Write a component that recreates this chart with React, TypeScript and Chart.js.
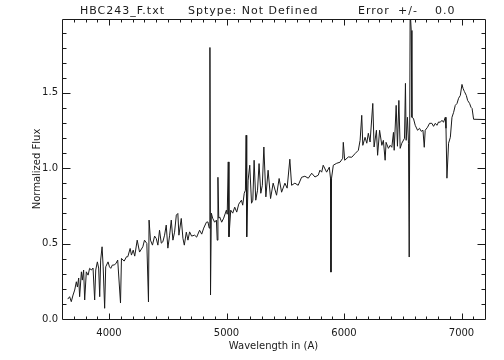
import React, { useEffect, useRef } from 'react';
import { Chart, registerables } from 'chart.js';

Chart.register(...registerables);

// Wavelength (Angstrom) samples
const wavelength = [
  3649, 3665, 3679, 3694, 3708, 3722, 3731, 3742, 3750, 3765, 3773, 3784, 3793, 3807, 3822, 3835,
  3850, 3864, 3878, 3887, 3901, 3912, 3921, 3929, 3941, 3950, 3963, 3972, 3992, 4004, 4015, 4029,
  4046, 4061, 4074, 4098, 4106, 4129, 4149, 4160, 4180, 4191, 4206, 4219, 4240, 4260, 4288, 4302,
  4322, 4336, 4341, 4353, 4370, 4388, 4402, 4416, 4430, 4445, 4458, 4473, 4487, 4501, 4516, 4530,
  4544, 4558, 4573, 4586, 4595, 4615, 4629, 4641, 4658, 4672, 4686, 4703, 4729, 4746, 4771, 4789,
  4806, 4829, 4842, 4853, 4859, 4864, 4871, 4882, 4899, 4914, 4921, 4927, 4934, 4942, 4959, 4976,
  4999, 5006, 5015, 5021, 5036, 5053, 5070, 5087, 5104, 5127, 5138, 5151, 5161, 5167, 5172, 5184,
  5198, 5213, 5224, 5235, 5249, 5264, 5277, 5292, 5305, 5318, 5335, 5354, 5375, 5397, 5426, 5448,
  5469, 5497, 5516, 5539, 5554, 5582, 5610, 5639, 5667, 5696, 5725, 5753, 5781, 5795, 5810, 5823,
  5852, 5875, 5885, 5889, 5894, 5909, 5938, 5966, 5989, 5994, 6006, 6037, 6066, 6094, 6122, 6137,
  6151, 6160, 6179, 6194, 6207, 6222, 6245, 6256, 6276, 6286, 6303, 6322, 6335, 6350, 6358, 6378,
  6393, 6407, 6421, 6427, 6444, 6455, 6467, 6478, 6492, 6515, 6523, 6529, 6540, 6549, 6555, 6563,
  6572, 6578, 6591, 6606, 6626, 6643, 6657, 6672, 6683, 6691, 6711, 6728, 6748, 6762, 6777, 6791,
  6805, 6819, 6834, 6847, 6862, 6868, 6876, 6890, 6905, 6919, 6933, 6947, 6962, 6975, 6990, 7004,
  7013, 7024, 7041, 7052, 7069, 7081, 7090, 7103, 7200,
];

// Normalized flux at each wavelength
const flux = [
  0.132, 0.148, 0.115, 0.159, 0.192, 0.247, 0.212, 0.272, 0.148, 0.313, 0.258, 0.325, 0.126, 0.313, 0.291, 0.336,
  0.325, 0.338, 0.126, 0.325, 0.379, 0.338, 0.148, 0.391, 0.479, 0.351, 0.071, 0.346, 0.379, 0.346, 0.336, 0.358,
  0.358, 0.371, 0.391, 0.106, 0.402, 0.384, 0.413, 0.413, 0.468, 0.424, 0.457, 0.417, 0.523, 0.444, 0.479, 0.523,
  0.501, 0.113, 0.656, 0.523, 0.490, 0.550, 0.534, 0.490, 0.589, 0.503, 0.512, 0.556, 0.623, 0.470, 0.556, 0.656,
  0.523, 0.576, 0.689, 0.700, 0.556, 0.667, 0.536, 0.490, 0.576, 0.523, 0.578, 0.550, 0.556, 0.543, 0.589, 0.563,
  0.603, 0.642, 0.644, 0.603, 1.801, 0.159, 0.702, 0.669, 0.642, 0.656, 0.523, 0.940, 0.669, 0.677, 0.642, 0.669,
  0.722, 0.695, 1.042, 0.545, 0.722, 0.702, 0.742, 0.709, 0.762, 0.788, 0.755, 0.834, 0.854, 1.219, 0.545, 0.921,
  1.020, 0.768, 0.788, 1.053, 0.788, 0.854, 1.031, 0.834, 0.887, 1.141, 0.810, 0.987, 0.799, 0.901, 0.821, 0.932,
  0.841, 0.901, 0.868, 1.060, 0.887, 0.901, 0.887, 0.940, 0.947, 0.934, 0.967, 0.942, 0.954, 0.987, 0.974, 1.020,
  0.974, 1.007, 0.934, 0.311, 0.934, 1.020, 1.033, 1.040, 1.066, 1.172, 1.053, 1.075, 1.073, 1.097, 1.119, 1.185,
  1.351, 1.152, 1.205, 1.166, 1.232, 1.174, 1.430, 1.141, 1.252, 1.086, 1.252, 1.152, 1.185, 1.053, 1.172, 1.132,
  1.152, 1.139, 1.238, 1.119, 1.417, 1.146, 1.450, 1.132, 1.166, 1.199, 1.563, 1.185, 1.338, 1.166, 0.411, 2.050,
  1.914, 1.338, 1.331, 1.285, 1.252, 1.265, 1.245, 1.252, 1.139, 1.252, 1.272, 1.298, 1.298, 1.278, 1.298, 1.285,
  1.307, 1.305, 1.318, 1.305, 1.338, 1.265, 0.934, 1.166, 1.205, 1.338, 1.371, 1.417, 1.430, 1.464, 1.483, 1.556,
  1.530, 1.510, 1.483, 1.450, 1.430, 1.404, 1.397, 1.325, 1.323,
];

const xRange = [3600, 7200];
const yRange = [0, 1.99];
const xMajorTicks = [4000, 5000, 6000, 7000];
const xMinorStep = 100;
const yMajorTicks = [0.0, 0.5, 1.0, 1.5];
const yMinorStep = 0.1;

const titleParts = ['HBC243_F.txt', 'Sptype: Not Defined', 'Error', '+/-', '0.0'];
const xTitle = 'Wavelength in (A)';
const yTitle = 'Normalized Flux';

const INK = '#1a1a1a';
const FONT = 'DejaVu Sans';

const framePlugin = {
  id: 'idlFrame',
  afterDatasetsDraw(chart: any) {
    const { ctx, chartArea, scales } = chart;
    const { left, right, top, bottom } = chartArea;
    const xs = scales.x;
    const ys = scales.y;
    ctx.save();
    ctx.strokeStyle = INK;
    ctx.lineWidth = 1;
    ctx.beginPath();
    ctx.rect(left + 0.5, top + 0.5, right - left, bottom - top);
    // x ticks (inward, bottom and top)
    for (let v = xRange[0] + xMinorStep; v < xRange[1]; v += xMinorStep) {
      const isMajor = xMajorTicks.some((m) => Math.abs(m - v) < 1e-6);
      const len = isMajor ? 6 : 3;
      const px = Math.round(xs.getPixelForValue(v)) + 0.5;
      ctx.moveTo(px, bottom + 0.5);
      ctx.lineTo(px, bottom + 0.5 - len);
      ctx.moveTo(px, top + 0.5);
      ctx.lineTo(px, top + 0.5 + len);
    }
    // y ticks (inward, left and right)
    for (let i = 1; i * yMinorStep < yRange[1]; i++) {
      const v = i * yMinorStep;
      const isMajor = yMajorTicks.some((m) => Math.abs(m - v) < 1e-6);
      const len = isMajor ? 8 : 4;
      const py = Math.round(ys.getPixelForValue(v)) + 0.5;
      ctx.moveTo(left + 0.5, py);
      ctx.lineTo(left + 0.5 + len, py);
      ctx.moveTo(right + 0.5, py);
      ctx.lineTo(right + 0.5 - len, py);
    }
    ctx.stroke();
    ctx.restore();
  },
  afterDraw(chart: any) {
    const { ctx } = chart;
    const xPositions = [80, 188, 358, 398, 435];
    ctx.save();
    ctx.fillStyle = INK;
    ctx.font = `11px "${FONT}"`;
    ctx.textAlign = 'left';
    ctx.textBaseline = 'alphabetic';
    try { (ctx as any).letterSpacing = '1px'; } catch (e) {}
    titleParts.forEach((t, i) => ctx.fillText(t, xPositions[i], 14));
    ctx.restore();
  },
};

export default function App() {
  const canvasRef = useRef<HTMLCanvasElement | null>(null);

  useEffect(() => {
    if (!canvasRef.current) return;
    const points = wavelength.map((w, i) => ({ x: w, y: flux[i] }));
    const chart = new Chart(canvasRef.current, {
      type: 'line',
      data: {
        datasets: [
          {
            data: points,
            borderColor: INK,
            borderWidth: 1,
            pointRadius: 0,
            tension: 0,
            fill: false,
          },
        ],
      },
      options: {
        animation: false,
        responsive: false,
        devicePixelRatio: 1,
        layout: { padding: { left: 0, right: 19, top: 19, bottom: 0 } },
        plugins: {
          legend: { display: false },
          tooltip: { enabled: false },
          title: { display: false },
        },
        scales: {
          x: {
            type: 'linear',
            min: xRange[0],
            max: xRange[1],
            afterBuildTicks: (s: any) => {
              s.ticks = xMajorTicks.map((v) => ({ value: v }));
            },
            afterFit: (s: any) => {
              s.height = 41;
            },
            ticks: {
              autoSkip: false,
              maxRotation: 0,
              padding: 8,
              color: INK,
              font: { family: FONT, size: 10 },
              callback: (v: any) => String(v),
            },
            grid: { display: false, drawTicks: false },
            border: { display: false },
            title: {
              display: true,
              text: xTitle,
              color: INK,
              font: { family: FONT, size: 10 },
              padding: { top: 0, bottom: 8 },
            },
          },
          y: {
            type: 'linear',
            min: yRange[0],
            max: yRange[1],
            afterBuildTicks: (s: any) => {
              s.ticks = yMajorTicks.map((v) => ({ value: v }));
            },
            afterFit: (s: any) => {
              s.width = 62;
            },
            ticks: {
              padding: 4,
              color: INK,
              font: { family: FONT, size: 10 },
              callback: (v: any) => Number(v).toFixed(1),
            },
            grid: { display: false, drawTicks: false },
            border: { display: false },
            title: {
              display: true,
              text: yTitle,
              color: INK,
              font: { family: FONT, size: 10 },
              padding: { top: 31, bottom: 0 },
            },
          },
        },
      },
      plugins: [framePlugin],
    } as any);
    return () => chart.destroy();
  }, []);

  return (
    <div style={{ position: 'fixed', left: 0, top: 0, width: 504, height: 360, background: '#fff' }}>
      <canvas ref={canvasRef} width={504} height={360} style={{ display: 'block' }} />
    </div>
  );
}
